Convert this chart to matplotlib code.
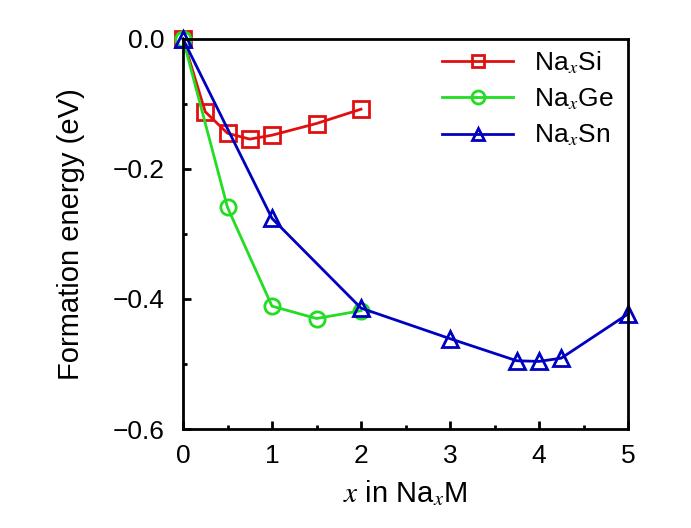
import matplotlib

matplotlib.use("Agg")
import matplotlib.pyplot as plt
from matplotlib.ticker import MultipleLocator

plt.rcParams["font.family"] = ["Liberation Sans", "DejaVu Sans"]
plt.rcParams["mathtext.fontset"] = "stix"

# formation energies (eV) vs x in Na_xM
si_x = [0.0, 0.25, 0.5, 0.75, 1.0, 1.5, 2.0]
si_e = [0.0, -0.112, -0.145, -0.154, -0.148, -0.130, -0.108]

ge_x = [0.0, 0.5, 1.0, 1.5, 2.0]
ge_e = [0.0, -0.259, -0.411, -0.430, -0.418]

sn_x = [0.0, 1.0, 2.0, 3.0, 3.75, 4.0, 4.25, 5.0]
sn_e = [0.0, -0.276, -0.414, -0.461, -0.495, -0.496, -0.491, -0.423]

fig = plt.figure(figsize=(6.91, 5.28), dpi=100)
ax = fig.add_axes([183 / 691, 1 - 429 / 528, 445 / 691, 390 / 528])

style = dict(linewidth=2, markersize=11, markerfacecolor="none", markeredgewidth=2, clip_on=False)
ax.plot(si_x, si_e, color="#e01010", marker="s", label=r"Na$_{x}$Si", **style)
ax.plot(ge_x, ge_e, color="#22dd22", marker="o", label=r"Na$_{x}$Ge", **style)
ax.plot(sn_x, sn_e, color="#0000c0", marker="^", label=r"Na$_{x}$Sn", **style)

ax.set_xlim(0, 5)
ax.set_ylim(-0.6, 0.0)
ax.xaxis.set_major_locator(MultipleLocator(1))
ax.xaxis.set_minor_locator(MultipleLocator(0.5))
ax.yaxis.set_major_locator(MultipleLocator(0.2))
ax.yaxis.set_minor_locator(MultipleLocator(0.1))
ax.yaxis.set_major_formatter(plt.FuncFormatter(lambda v, p: f"{v:.1f}".replace("-", "\u2212")))
ax.tick_params(which="both", direction="in", top=False, right=False, labelsize=19, width=2)
ax.tick_params(which="major", length=6)
ax.tick_params(which="minor", length=3)
ax.tick_params(axis="x", which="major", pad=11)
ax.tick_params(axis="y", which="major", pad=13)
for spine in ax.spines.values():
    spine.set_linewidth(2)

ax.set_xlabel(r"$x$ in Na$_{x}$M", fontsize=21, labelpad=7)
ax.set_ylabel("Formation energy (eV)", fontsize=21, labelpad=20)

ax.legend(loc="upper right", bbox_to_anchor=(0.992, 1.0), frameon=False, fontsize=19,
          handlelength=2.7, markerscale=0.85, labelspacing=0.4, borderaxespad=0,
          handletextpad=0.8)

fig.savefig("out.png", dpi=100)
